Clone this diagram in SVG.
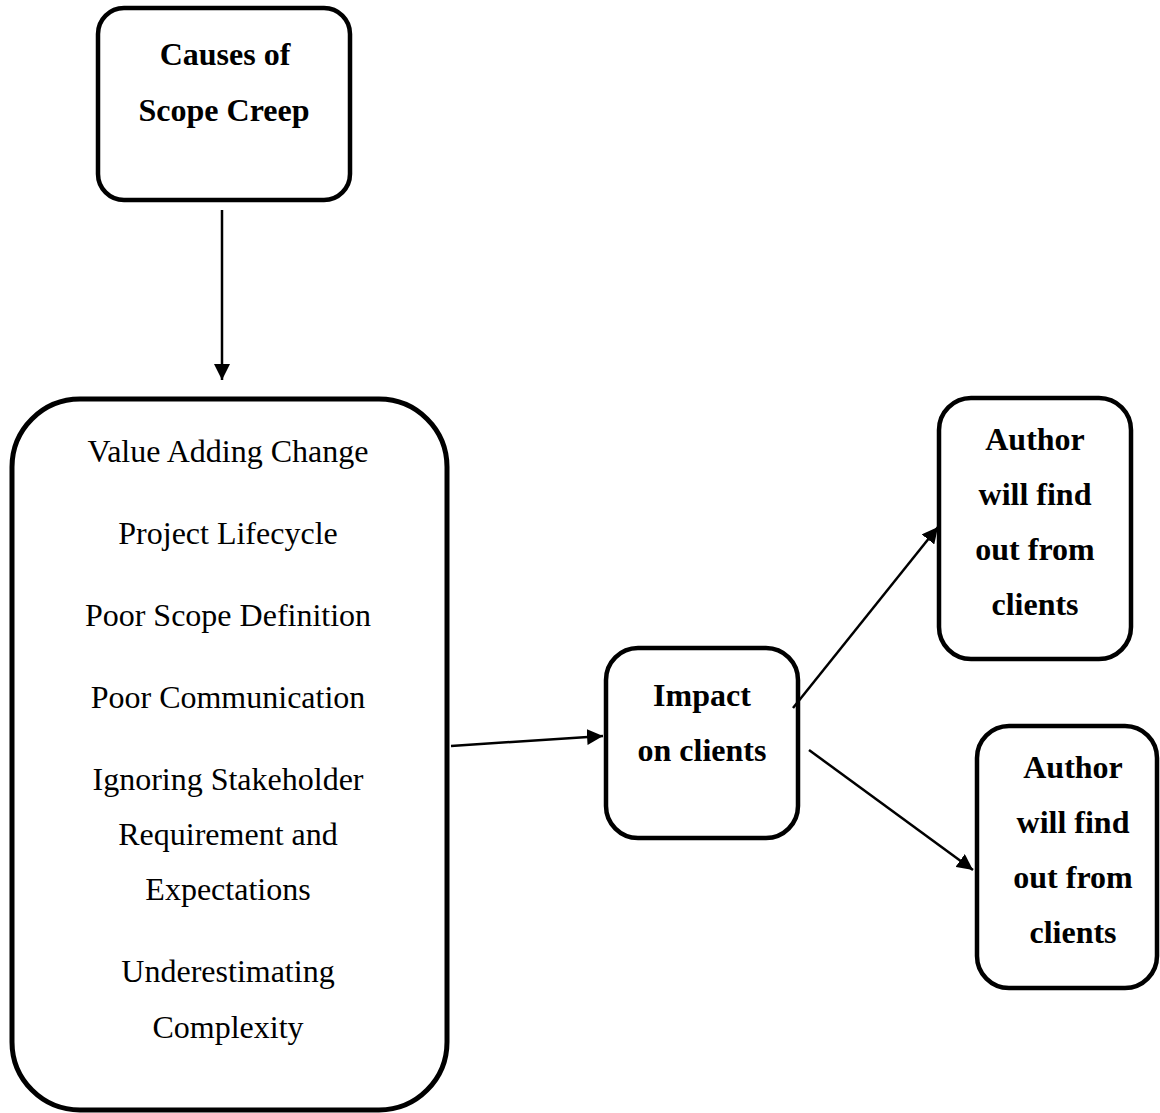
<svg xmlns="http://www.w3.org/2000/svg" width="1160" height="1113" viewBox="0 0 1160 1113">
<style>
.box{fill:#fff;stroke:#000;stroke-width:4.5}
.t{font-family:"Liberation Serif","Times New Roman",serif;font-size:32px;fill:#000;text-anchor:middle}
.b{font-weight:bold}
.c{stroke:#000;stroke-width:2.5;fill:none}
</style>
<defs>
<marker id="ah" markerUnits="userSpaceOnUse" markerWidth="16" markerHeight="16" viewBox="0 0 16 16" refX="16" refY="8" orient="auto">
<path d="M0,0 L16,8 L0,16 Z" fill="#000"/>
</marker>
</defs>
<rect width="1160" height="1113" fill="#fff"/>
<g id="causes">
<rect class="box" x="98" y="8" width="252" height="192" rx="26"/>
<text class="t b" x="225" y="65">Causes of</text>
<text class="t b" x="224" y="121">Scope Creep</text>
</g>
<g id="list">
<rect class="box" x="12" y="399" width="435" height="711" rx="68" style="stroke-width:5"/>
<text class="t" x="228" y="462">Value Adding Change</text>
<text class="t" x="228" y="544">Project Lifecycle</text>
<text class="t" x="228" y="626">Poor Scope Definition</text>
<text class="t" x="228" y="708">Poor Communication</text>
<text class="t" x="228" y="790">Ignoring Stakeholder</text>
<text class="t" x="228" y="845">Requirement and</text>
<text class="t" x="228" y="900">Expectations</text>
<text class="t" x="228" y="982">Underestimating</text>
<text class="t" x="228" y="1038">Complexity</text>
</g>
<g id="impact">
<rect class="box" x="606" y="648" width="192" height="190" rx="32"/>
<text class="t b" x="702" y="706">Impact</text>
<text class="t b" x="702" y="761">on clients</text>
</g>
<g id="author1">
<rect class="box" x="939" y="398" width="192" height="261" rx="32"/>
<text class="t b" x="1035" y="450">Author</text>
<text class="t b" x="1035" y="505">will find</text>
<text class="t b" x="1035" y="560">out from</text>
<text class="t b" x="1035" y="615">clients</text>
</g>
<g id="author2">
<rect class="box" x="977" y="726" width="180" height="262" rx="32"/>
<text class="t b" x="1073" y="778">Author</text>
<text class="t b" x="1073" y="833">will find</text>
<text class="t b" x="1073" y="888">out from</text>
<text class="t b" x="1073" y="943">clients</text>
</g>
<g id="connectors">
<line class="c" x1="222" y1="210" x2="222" y2="380" marker-end="url(#ah)"/>
<line class="c" x1="451" y1="746" x2="603" y2="736" marker-end="url(#ah)"/>
<line class="c" x1="793" y1="708" x2="938" y2="527" marker-end="url(#ah)"/>
<line class="c" x1="809" y1="750" x2="973" y2="870" marker-end="url(#ah)"/>
</g>
</svg>
